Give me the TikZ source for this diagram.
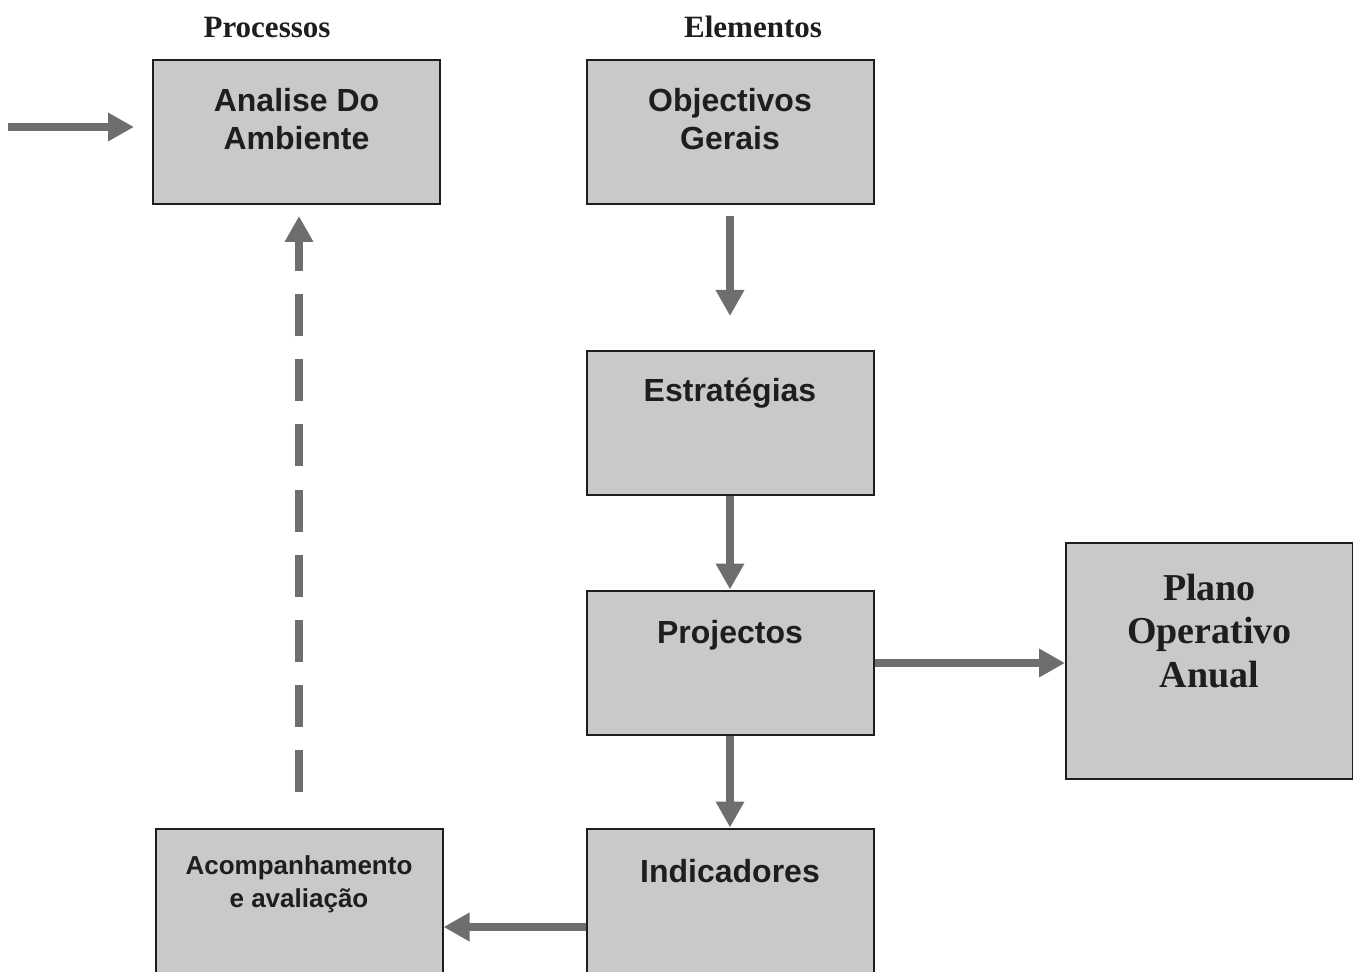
\documentclass[tikz,border=0pt]{standalone}
\usepackage{fontspec}
\setmainfont{Liberation Serif}
\setsansfont{Liberation Sans}
\usetikzlibrary{arrows.meta}
\definecolor{boxgray}{HTML}{C9C9C9}
\definecolor{arrowgray}{HTML}{6E6E6E}
\definecolor{inkgray}{HTML}{1E1E1E}
\tikzset{
  stage/.style={draw=inkgray, line width=1pt, fill=boxgray, minimum width=143.5pt, minimum height=72pt, inner sep=0pt},
  boxtext/.style={font=\sffamily\bfseries\fontsize{16}{19}\selectfont, text=inkgray, align=center, anchor=base},
  headtext/.style={font=\rmfamily\bfseries\fontsize{15.5}{18}\selectfont, text=inkgray, anchor=base},
  flow/.style={draw=arrowgray, line width=4pt, -{Triangle[width=13.5pt,length=13pt]}}
}
\begin{document}
\begin{tikzpicture}[x=0.5pt,y=-0.5pt]
        \useasboundingbox (0,0) rectangle (1353,972);
        %headers
        \node[headtext] (proc) at (267,38) {Processos};
        \node[headtext] (elem) at (753,38) {Elementos};
        %boxes
        \node[stage] (amb) at (296.5,132) {};
        \node[stage] (obj) at (730,132) {};
        \node[stage] (est) at (730,423) {};
        \node[stage] (proj) at (730,662.5) {};
        \node[stage] (ind) at (730,900.5) {};
        \node[stage] (acomp) at (299,900.5) {};
        \node[stage, minimum height=118pt] (plano) at (1209.5,661) {};
        %texts (base = last line)
        \node[boxtext] (ambtxt) at (296.5,150) {Analise Do\\Ambiente};
        \node[boxtext] (objtxt) at (730,150) {Objectivos\\Gerais};
        \node[boxtext] (esttxt) at (730,402) {Estratégias};
        \node[boxtext] (projtxt) at (730,643) {Projectos};
        \node[boxtext] (indtxt) at (730,882) {Indicadores};
        \node[boxtext, font=\sffamily\bfseries\fontsize{13}{16.5}\selectfont] (acomptxt) at (299,907) {Acompanhamento\\e avaliação};
        \node[boxtext, font=\rmfamily\bfseries\fontsize{19}{21.75}\selectfont] (planotxt) at (1209.5,687) {Plano\\Operativo\\Anual};
        %arrows
        \coordinate (in) at (8,127);
        \draw[flow, shorten >=9pt] (in) -- (in -| amb.west);
        \draw[flow, shorten <=5.5pt, shorten >=17pt] (obj) -- (est);
        \draw[flow] (est) -- (proj);
        \draw[flow] (proj) -- (ind);
        \draw[flow] ([yshift=-0.25pt]proj.east) -- ([yshift=-0.25pt]proj.east -| plano.west);
        \draw[flow] ([yshift=-13.25pt]ind.west) -- ([yshift=-13.25pt]ind.west -| acomp.east);
        %feedback
        \draw[flow, dash pattern=on 21pt off 11.5pt, shorten <=18pt, shorten >=5.5pt] (acomp.north) -- (acomp.north |- amb.south);
    \end{tikzpicture}
\end{document}
